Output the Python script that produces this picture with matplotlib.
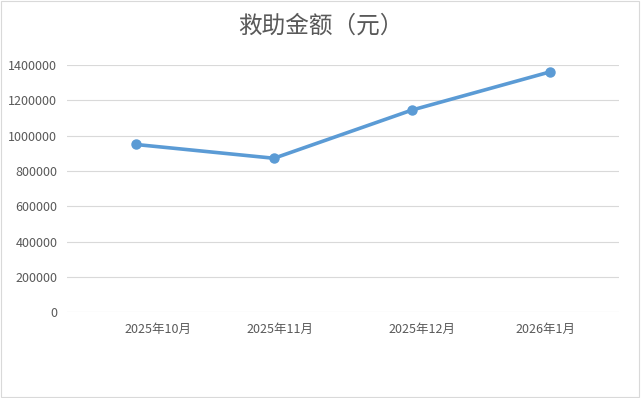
import matplotlib
matplotlib.use("Agg")
import matplotlib.pyplot as plt
import matplotlib.transforms as mtransforms
from matplotlib.patches import Rectangle

plt.rcParams['font.family'] = ['Noto Sans CJK SC', 'DejaVu Sans']

title = "救助金额（元）"
categories = ["2025年10月", "2025年11月", "2025年12月", "2026年1月"]
values = [950000, 872000, 1145000, 1361000]
yticks = [0, 200000, 400000, 600000, 800000, 1000000, 1200000, 1400000]

W, H, DPI = 641, 398, 100
fig = plt.figure(figsize=(W / DPI, H / DPI), dpi=DPI)
ax = fig.add_axes([67 / W, 1 - 312.3 / H, (619 - 67) / W, (312.3 - 65) / H])

x = list(range(len(categories)))
ax.plot(x, values, color='#5B9BD5', lw=2.6, marker='o', markersize=6.5,
        solid_capstyle='round', zorder=3)

ax.set_xlim(-0.5, len(categories) - 0.5)
ax.set_ylim(0, 1400000)
ax.set_yticks(yticks)
ax.set_yticklabels([str(v) for v in yticks])
ax.set_xticks(x)
ax.set_xticklabels(categories)

ax.grid(axis='y', color='#d9d9d9', lw=0.8)
ax.set_axisbelow(True)
for s in ax.spines.values():
    s.set_visible(False)
ax.tick_params(axis='both', length=0, colors='#595959', labelsize=9)
ax.tick_params(axis='y', pad=7)
ax.tick_params(axis='x', pad=8)

# Excel-style label offsets (pixels)
offsets = [22, 5.5, 9.5, -5]
for lab, off in zip(ax.get_xticklabels(), offsets):
    lab.set_transform(lab.get_transform() + mtransforms.ScaledTranslation(off / DPI, 0, fig.dpi_scale_trans))

fig.text(321 / W, 1 - 26 / H, title, ha='center', va='center', fontsize=17,
         color='#595959', fontweight='light')

fig.patches.append(Rectangle((1 / W, 1 / H), (638) / W, (396) / H, transform=fig.transFigure,
                             fill=False, edgecolor='#d9d9d9', lw=0.8))

fig.savefig("out.png", dpi=DPI)
